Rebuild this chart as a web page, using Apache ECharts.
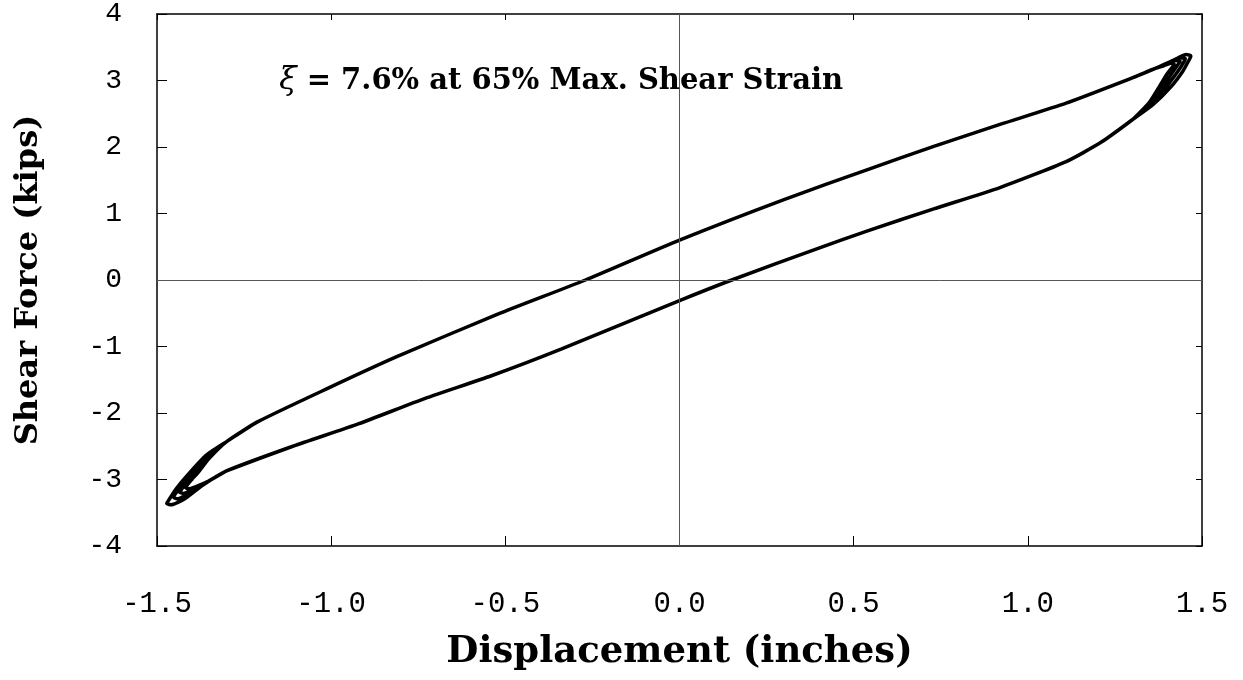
<!DOCTYPE html>
<html>
<head>
<meta charset="utf-8">
<script src="https://cdn.jsdelivr.net/npm/echarts@6/dist/echarts.min.js"></script>
<style>
  html, body { margin: 0; padding: 0; background: #fff; }
  #chart { width: 1243px; height: 680px; }
</style>
</head>
<body>
<div id="chart"></div>
<script>
// Tick labels
const xTickLabels = ['-1.5', '-1.0', '-0.5', '0.0', '0.5', '1.0', '1.5'];
const yTickLabels = ['-4', '-3', '-2', '-1', '0', '1', '2', '3', '4'];

// Loading branch (displacement in, force kips), shared by all cycles
const lowerMid = [[-1.30,-2.87],[-1.11,-2.50],[-0.92,-2.16],[-0.73,-1.78],[-0.54,-1.44],[-0.34,-1.04],
  [0.00,-0.31],[0.15,0.00],[0.40,0.48],[0.54,0.74],[0.73,1.07],[0.92,1.39],[1.11,1.78],[1.21,2.07],[1.30,2.41]];
// Unloading branch
const upperMid = [[1.30,3.04],[1.11,2.66],[0.92,2.34],[0.73,2.01],[0.54,1.66],[0.30,1.21],[0.00,0.60],
  [-0.27,0.00],[-0.52,-0.51],[-0.81,-1.15],[-1.01,-1.63],[-1.21,-2.13],[-1.30,-2.43]];

// Positive peak regions, one per cycle
const rightTipA = [[1.36,2.64],[1.41,2.90],[1.445,3.14],[1.462,3.30],[1.468,3.37],[1.455,3.39],[1.42,3.31],[1.37,3.19]];
const rightTipB = [[1.36,2.66],[1.40,2.92],[1.43,3.13],[1.448,3.28],[1.452,3.33],[1.44,3.34],[1.41,3.28],[1.37,3.19]];
const rightTipC = [[1.36,2.68],[1.39,2.93],[1.415,3.12],[1.432,3.25],[1.437,3.29],[1.425,3.30],[1.40,3.25],[1.36,3.17]];
const rightTipD = [[1.35,2.68],[1.38,2.93],[1.40,3.10],[1.416,3.21],[1.42,3.25],[1.41,3.26],[1.39,3.22],[1.36,3.17]];

// Negative peak regions, one per cycle
const leftTipA = [[-1.36,-2.64],[-1.41,-2.92],[-1.445,-3.14],[-1.465,-3.30],[-1.472,-3.36],[-1.46,-3.38],[-1.42,-3.29],[-1.37,-3.09]];
const leftTipB = [[-1.36,-2.66],[-1.40,-2.92],[-1.43,-3.10],[-1.448,-3.22],[-1.452,-3.27],[-1.44,-3.29],[-1.41,-3.21],[-1.37,-3.08]];
const leftTipC = [[-1.35,-2.66],[-1.39,-2.90],[-1.415,-3.05],[-1.43,-3.15],[-1.435,-3.19],[-1.425,-3.21],[-1.40,-3.16],[-1.36,-3.05]];
const leftTipD = [[-1.35,-2.68],[-1.38,-2.88],[-1.40,-3.00],[-1.413,-3.08],[-1.418,-3.12],[-1.41,-3.14],[-1.39,-3.11],[-1.35,-3.02]];

// Chain the cycles into one continuous trace
const cycles = [[rightTipA, leftTipA], [rightTipB, leftTipB], [rightTipC, leftTipC], [rightTipD, leftTipD]];
const trace = [];
cycles.forEach(([r, l]) => { trace.push(...lowerMid, ...r, ...upperMid, ...l); });
trace.push(lowerMid[0]);

const monoFont = 'Liberation Mono';
const serifFont = 'DejaVu Serif';

const chart = echarts.init(document.getElementById('chart'), null, { renderer: 'canvas' });

const baseX = {
  type: 'value', min: -1.5, max: 1.5, interval: 0.5,
  axisLine: { show: true, onZero: false, lineStyle: { color: '#000', width: 1.5 } },
  splitLine: { show: false }
};
const baseY = {
  type: 'value', min: -4, max: 4, interval: 1,
  axisLine: { show: true, onZero: false, lineStyle: { color: '#000', width: 1.5 } },
  splitLine: { show: false }
};

chart.setOption({
  animation: false,
  backgroundColor: '#fff',
  title: {
    text: '{xi|ξ} = 7.6% at 65% Max. Shear Strain',
    left: 274, top: 60,
    textStyle: {
      fontFamily: serifFont, fontWeight: 'bold', fontSize: 29, color: '#000',
      rich: { xi: { fontFamily: serifFont, fontStyle: 'italic', fontWeight: 'normal', fontSize: 32, color: '#000' } }
    }
  },
  grid: { left: 157, right: 41, top: 14, bottom: 134, containLabel: false },
  xAxis: [
    Object.assign({}, baseX, {
      position: 'bottom',
      axisTick: { show: true, inside: true, length: 10, lineStyle: { color: '#000' } },
      axisLabel: { margin: 44, fontFamily: monoFont, fontSize: 29, color: '#000',
        formatter: (v, i) => xTickLabels[i] },
      name: 'Displacement (inches)', nameLocation: 'middle', nameGap: 88,
      nameTextStyle: { fontFamily: serifFont, fontWeight: 'bold', fontSize: 37, color: '#000' }
    }),
    Object.assign({}, baseX, {
      position: 'top',
      axisTick: { show: true, inside: true, length: 6, lineStyle: { color: '#000' } },
      axisLabel: { show: false }
    })
  ],
  yAxis: [
    Object.assign({}, baseY, {
      position: 'left',
      axisTick: { show: true, inside: true, length: 10, lineStyle: { color: '#000' } },
      axisLabel: { margin: 35, fontFamily: monoFont, fontSize: 28, color: '#000',
        formatter: (v, i) => yTickLabels[i] },
      name: 'Shear Force (kips)', nameLocation: 'middle', nameGap: 112, nameRotate: 90,
      nameTextStyle: { fontFamily: serifFont, fontWeight: 'bold', fontSize: 32, color: '#000' }
    }),
    Object.assign({}, baseY, {
      position: 'right',
      axisTick: { show: true, inside: true, length: 6, lineStyle: { color: '#000' } },
      axisLabel: { show: false }
    })
  ],
  series: [
    {
      // zero reference lines
      type: 'line', data: [], z: 1,
      markLine: {
        silent: true, symbol: 'none', animation: false,
        label: { show: false },
        lineStyle: { color: '#555', width: 1, type: 'solid' },
        data: [{ xAxis: 0 }, { yAxis: 0 }]
      }
    },
    {
      type: 'line', data: trace, z: 3,
      showSymbol: false, symbol: 'none', smooth: 0.2,
      lineStyle: { color: '#000', width: 3.5 }
    }
  ]
});
</script>
</body>
</html>
